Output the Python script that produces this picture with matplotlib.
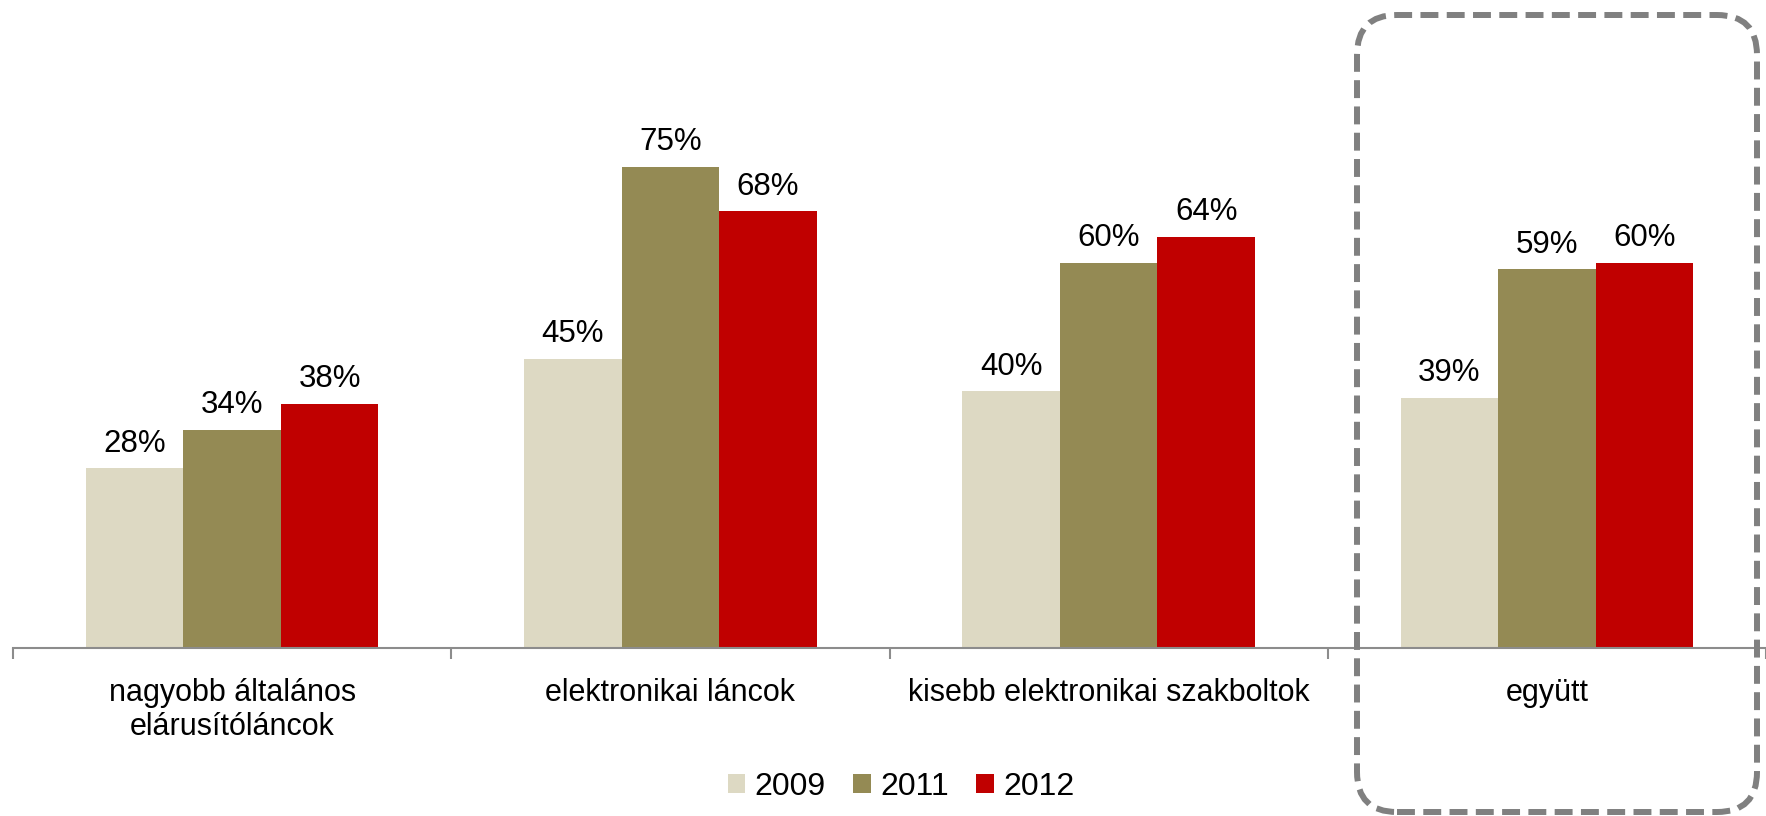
import matplotlib
matplotlib.use("Agg")
import matplotlib.pyplot as plt
from matplotlib.patches import FancyBboxPatch
import numpy as np

# Adatok
kategoriak = ["nagyobb általános\nelárusítóláncok", "elektronikai láncok",
              "kisebb elektronikai szakboltok", "együtt"]
evek = ["2009", "2011", "2012"]
ertek_2009 = [28, 45, 40, 39]
ertek_2011 = [34, 75, 60, 59]
ertek_2012 = [38, 68, 64, 60]
szinek = ["#DDD9C3", "#948A54", "#C00000"]

plt.rcParams["font.family"] = ["Liberation Sans", "DejaVu Sans"]

fig = plt.figure(figsize=(17.66, 8.16), dpi=100)
ax = fig.add_axes([13 / 1766, 168 / 816, 1753 / 1766, 642 / 816])

x = np.arange(len(kategoriak))
w = 0.2226
sorozatok = [ertek_2009, ertek_2011, ertek_2012]
for i, (ev, vals, c) in enumerate(zip(evek, sorozatok, szinek)):
    bars = ax.bar(x + (i - 1) * w, vals, w, color=c, label=ev)
    for b, v in zip(bars, vals):
        ax.annotate(f"{v}%", (b.get_x() + b.get_width() / 2, v),
                    xytext=(0, 12), textcoords="offset points",
                    ha="center", va="baseline", fontsize=22.5)

ax.set_xlim(-0.5, -0.5 + 1753 / 441.5)
ax.set_ylim(0, 100)
ax.set_yticks([])
for s in ["top", "right", "left"]:
    ax.spines[s].set_visible(False)
ax.spines["bottom"].set_color("#8C8C8C")
ax.spines["bottom"].set_linewidth(1.5)

ax.set_xticks(np.arange(len(kategoriak) + 1) - 0.5)
ax.set_xticklabels([])
ax.tick_params(axis="x", length=8, width=1.5, color="#8C8C8C", direction="out")
for xi, lab in zip(x, kategoriak):
    ax.text(xi, -4.6, lab, ha="center", va="top", fontsize=22,
            linespacing=1.2, transform=ax.transData)

leg = fig.legend(loc="center", bbox_to_anchor=(901 / 1766, 1 - 787 / 816), ncol=3,
                 frameon=False, fontsize=23, handlelength=0.55, handleheight=0.55,
                 handletextpad=0.3, columnspacing=0.85)

# szaggatott keret az "együtt" körül
keret = FancyBboxPatch((13.57, 0.04), 4.0, 7.97,
                       boxstyle="round,pad=0,rounding_size=0.4",
                       transform=fig.dpi_scale_trans, fill=False,
                       edgecolor="#808080", linewidth=4.3, linestyle=(0, (3, 1.4)))
fig.patches.append(keret)

fig.savefig("out.png", dpi=100)
